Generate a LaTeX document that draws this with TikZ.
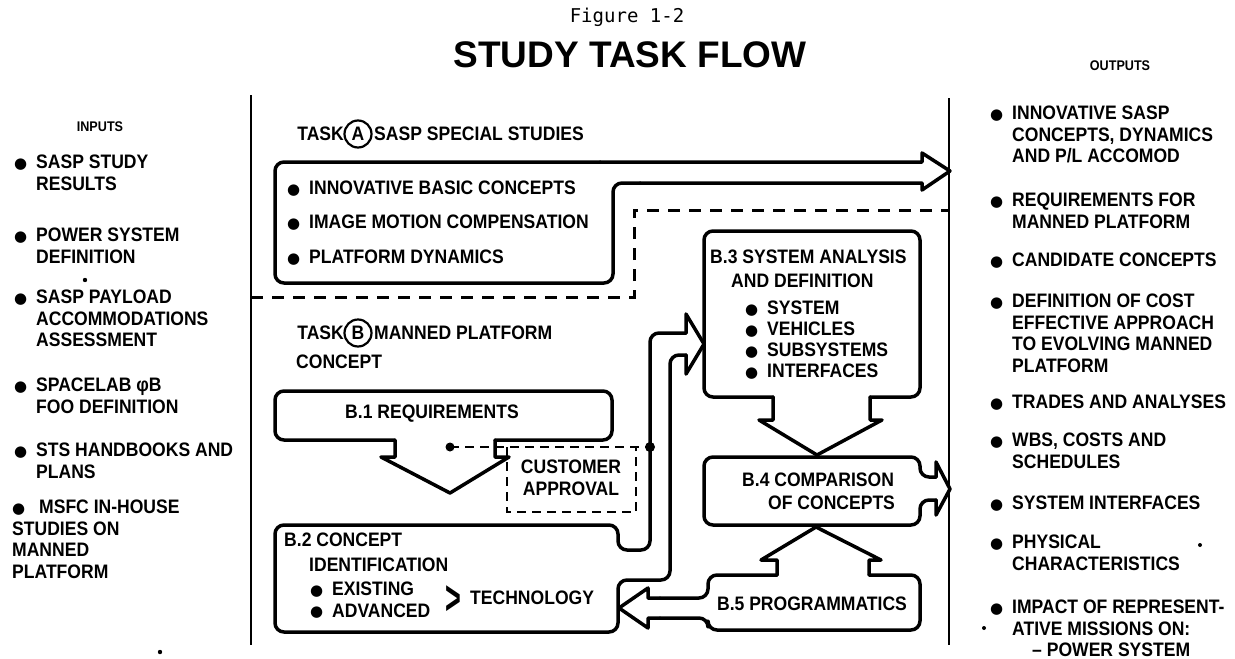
\documentclass[tikz,border=0pt]{standalone}
\usepackage{fontspec}
\setmainfont{Liberation Sans}
\newfontfamily\lbl[FakeStretch=0.9]{Liberation Sans}
\newfontfamily\ttlfont{Liberation Sans}
\newfontfamily\figfont{DejaVu Sans Mono}
\newfontfamily\symfont{DejaVu Sans}
\newcommand\bl{\makebox[22pt][l]{\raisebox{0.5pt}{\symfont\fontsize{15}{15}\selectfont ●}}}
\newcommand\ind{\hspace*{22pt}}
\begin{document}
\begin{tikzpicture}[x=1pt,y=-1pt,
  txt/.style={font=\lbl\bfseries\fontsize{19.5}{21.5}\selectfont, inner sep=0pt, align=left, anchor=north west},
  ctr/.style={font=\lbl\bfseries\fontsize{19.5}{21.5}\selectfont, inner sep=0pt, align=center},
  small/.style={font=\lbl\bfseries\fontsize{14}{14}\selectfont, inner sep=0pt},
  outl/.style={line width=3.5pt, line cap=round, line join=round},
  rnd/.style={outl, rounded corners=9pt},
  dsh/.style={line width=3pt, dash pattern=on 12pt off 9pt},
  dshs/.style={line width=2.5pt, dash pattern=on 9pt off 6pt},
  sep/.style={line width=2.6pt},
  tag/.style={circle, draw, line width=2.2pt, minimum size=27pt, inner sep=0pt, font=\lbl\bfseries\fontsize{19.5}{21.5}\selectfont}
]
\useasboundingbox (0,0) rectangle (1235,659);

% titles
\node[font=\figfont\fontsize{19}{19}\selectfont] (fig) at (627,17) {Figure 1-2};
\node[font=\ttlfont\bfseries\fontsize{37}{37}\selectfont] (title) at (630,55) {STUDY TASK FLOW};
\node[small] (inputs) at (100,127) {INPUTS};
\node[small] (outputs) at (1120,66) {OUTPUTS};

% separators
\coordinate (lt) at (251,95); \coordinate (lb) at (251,645);
\coordinate (rt) at (949,98); \coordinate (rb) at (949,645);
\draw[sep] (lt) -- (lb);
\draw[sep] (rt) -- (rb);

% Task A
\node[ctr, anchor=east] (taskA) at (344,134) {TASK};
\node[tag] (cA) at (358,134) {A};
\node[ctr, anchor=west] (taskAt) at (374,134) {SASP SPECIAL STUDIES};
\draw[rnd] (600,162) -- (275,162) -- (275,283) -- (613,283) -- (613,183) -- (640,183);
\draw[outl] (600,162) -- (922,162) -- (922,153) -- (950,171) -- (922,190) -- (922,183) -- (640,183);
\node[txt] (a1) at (287,181) {\bl INNOVATIVE BASIC CONCEPTS};
\node[txt] (a2) at (287,215) {\bl IMAGE MOTION COMPENSATION};
\node[txt] (a3) at (287,250) {\bl PLATFORM DYNAMICS};

% boundary between tasks
\draw[dsh] (251,297) -- (634,297) -- (634,210) -- (949,210);

% Task B
\node[ctr, anchor=east] (taskB) at (344,333) {TASK};
\node[tag] (cB) at (358,333) {B};
\node[ctr, anchor=west] (taskBt) at (374,333) {MANNED PLATFORM};
\node[txt] (taskBc) at (296,355) {CONCEPT};

% B.1
\draw[rnd] (395,440) -- (275,440) -- (275,391) -- (612,391) -- (612,440) -- (495,440);
\draw[outl] (395,440) -- (395,457) -- (381,457) -- (450,493) -- (509,457) -- (495,457) -- (495,440);
\node[ctr] (b1) at (432,414) {B.1 REQUIREMENTS};

% customer approval
\coordinate (d1) at (450,447); \coordinate (d2) at (650,447);
\fill (d1) circle (4.5);
\draw[dshs] (d1) -- (d2);
\draw[dshs] (507,447) -- (507,512) -- (636,512) -- (636,447);
\fill (d2) circle (5);
\node[ctr, anchor=north] (cust) at (571,460) {CUSTOMER\\APPROVAL};

% B.2
\draw[rnd] (686,333) -- (650,333) -- (650,550) -- (618,550) -- (618,525) -- (275,525) -- (275,632) -- (618,632) -- (618,580) -- (670,580) -- (670,355) -- (686,355);
\draw[outl] (686,333) -- (686,314) -- (704,344) -- (686,374) -- (686,355);
\node[txt] (b2a) at (284,533) {B.2 CONCEPT};
\node[txt] (b2b) at (309,558) {IDENTIFICATION};
\node[txt] (b2c) at (310,582) {\bl EXISTING\\\bl ADVANCED};
\node[font=\lbl\bfseries\fontsize{30}{30}\selectfont, inner sep=0pt] (gt) at (453,600) {\scalebox{1}[1.6]{>}};
\node[ctr, anchor=west] (tech) at (470,598) {TECHNOLOGY};

% B.3
\draw[rnd] (773,397) -- (704,397) -- (704,231) -- (920,231) -- (920,397) -- (870,397);
\draw[outl] (773,397) -- (773,420) -- (759,420) -- (817,455) -- (882,420) -- (870,420) -- (870,397);
\node[txt] (b3a) at (710,250) {B.3 SYSTEM ANALYSIS};
\node[txt] (b3b) at (731,274) {AND DEFINITION};
\node[txt, font=\lbl\bfseries\fontsize{19.5}{21}\selectfont] (b3c) at (745,301) {\bl SYSTEM\\\bl VEHICLES\\\bl SUBSYSTEMS\\\bl INTERFACES};

% B.4
\draw[rnd] (936,477) -- (920,477) -- (920,457) -- (704,457) -- (704,525) -- (920,525) -- (920,500) -- (936,500);
\draw[outl] (936,477) -- (936,462) -- (950,489) -- (936,515) -- (936,500);
\node[txt] (b4a) at (742,473) {B.4 COMPARISON};
\node[txt] (b4b) at (768,496) {OF CONCEPTS};

% B.5
\draw[rnd] (660,598) -- (708,598) -- (708,575) -- (777,575);
\draw[outl] (777,575) -- (777,560) -- (761,560) -- (816,527) -- (881,560) -- (869,560) -- (869,575);
\draw[rnd] (869,575) -- (920,575) -- (920,630) -- (708,630) -- (708,618) -- (660,618);
\draw[outl] (660,598) -- (648,598) -- (648,588) -- (619,608) -- (648,628) -- (648,618) -- (660,618);
\node[ctr] (b5) at (812,604) {B.5 PROGRAMMATICS};

% inputs
\node[txt] (i1) at (14,155) {\bl SASP STUDY\\\ind RESULTS};
\node[txt] (i2) at (14,228) {\bl POWER SYSTEM\\\ind DEFINITION};
\node[txt] (i3) at (14,290) {\bl SASP PAYLOAD\\\ind ACCOMMODATIONS\\\ind ASSESSMENT};
\node[txt] (i4) at (14,378) {\bl SPACELAB φB\\\ind FOO DEFINITION};
\node[txt] (i5) at (14,443) {\bl STS HANDBOOKS AND\\\ind PLANS};
\node[txt] (i6) at (12,500) {\bl\hspace{5pt}MSFC IN-HOUSE\\STUDIES ON\\MANNED\\PLATFORM};

% outputs
\node[txt] (o1) at (990,106) {\bl INNOVATIVE SASP\\\ind CONCEPTS, DYNAMICS\\\ind AND P/L ACCOMOD};
\node[txt] (o2) at (990,193) {\bl REQUIREMENTS FOR\\\ind MANNED PLATFORM};
\node[txt] (o3) at (990,253) {\bl CANDIDATE CONCEPTS};
\node[txt] (o4) at (990,294) {\bl DEFINITION OF COST\\\ind EFFECTIVE APPROACH\\\ind TO EVOLVING MANNED\\\ind PLATFORM};
\node[txt] (o5) at (990,395) {\bl TRADES AND ANALYSES};
\node[txt] (o6) at (990,433) {\bl WBS, COSTS AND\\\ind SCHEDULES};
\node[txt] (o7) at (990,496) {\bl SYSTEM INTERFACES};
\node[txt] (o8) at (990,535) {\bl PHYSICAL\\\ind CHARACTERISTICS};
\node[txt] (o9) at (990,600) {\bl IMPACT OF REPRESENT-\\\ind ATIVE MISSIONS ON:\\\hspace*{42pt}– POWER SYSTEM};

% specks
\fill (85,280) circle (2.2);
\fill (160,652) circle (2.2);
\fill (1200,545) circle (2);
\fill (984,628) circle (2);
\end{tikzpicture}
\end{document}
